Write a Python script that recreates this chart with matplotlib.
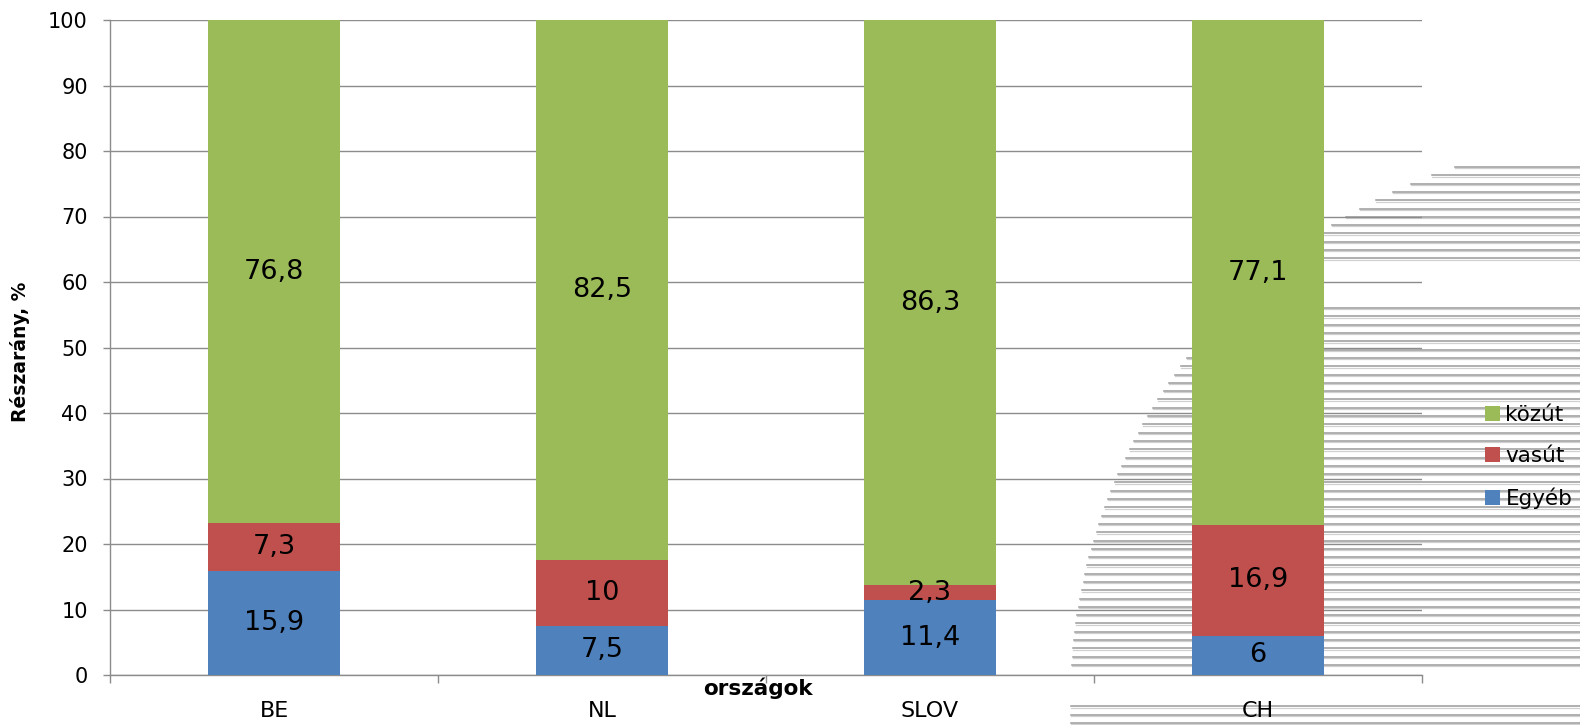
import numpy as np
import matplotlib
matplotlib.use("Agg")
import matplotlib.pyplot as plt
from matplotlib.lines import Line2D

categories = ["BE", "NL", "SLOV", "CH"]
egyeb = [15.9, 7.5, 11.4, 6]
vasut = [7.3, 10, 2.3, 16.9]
kozut = [76.8, 82.5, 86.3, 77.1]
series_names = ["Egyéb", "vasút", "közút"]
colors = ["#4F81BD", "#C0504D", "#9BBB59"]
yticks = list(range(0, 101, 10))

W, H = 1580, 725
plt.rcParams['font.family'] = ['DejaVu Sans']
fig = plt.figure(figsize=(W / 100, H / 100), dpi=100)
fig.patch.set_facecolor("white")

def fx(px):
    return px / W

def fy(py):
    return 1 - py / H

# decorative scan hatching in background (pixel geometry)
cx, cy, r = 1633, 700, 562
gaps = [(262, 300), (668, 703)]
yy = 167.0
while yy < H:
    if not any(a < yy < b for a, b in gaps):
        d = r ** 2 - (yy - cy) ** 2
        if d > 0:
            xl = cx - np.sqrt(d)
            fig.add_artist(Line2D([fx(xl), 1.0], [fy(yy), fy(yy)], transform=fig.transFigure,
                                  color="#9a9a9a", lw=1.1, zorder=-5))
            fig.add_artist(Line2D([fx(xl), 1.0], [fy(yy + 1.3), fy(yy + 1.3)], transform=fig.transFigure,
                                  color="#d0d0d0", lw=0.9, zorder=-6))
    yy += 8.3

ax = fig.add_axes([fx(110), fy(675), fx(1422) - fx(110), fy(20) - fy(675)])
ax.patch.set_visible(False)

x = np.arange(len(categories))
bw = 0.40
bottom = np.zeros(len(categories))
handles = []
for vals, name, col in zip([egyeb, vasut, kozut], series_names, colors):
    vals = np.array(vals, dtype=float)
    b = ax.bar(x, vals, bw, bottom=bottom, color=col, label=name, zorder=3)
    handles.append(b)
    for xi, v, bt in zip(x, vals, bottom):
        lab = ("%g" % v).replace(".", ",")
        ax.text(xi, bt + v / 2, lab, ha="center", va="center", fontsize=19.5, color="black", zorder=4)
    bottom += vals

ax.set_xlim(-0.5, len(categories) - 0.5)
ax.set_ylim(0, 100)
ax.set_yticks(yticks)
ax.set_yticklabels([str(t) for t in yticks], fontsize=15)
ax.yaxis.grid(True, color="#8c8c8c", lw=1.0, zorder=1)
ax.set_axisbelow(True)

ax.set_xticks(x)
ax.set_xticklabels(categories, fontsize=16)
ax.set_xticks(np.arange(-0.5, len(categories)), minor=True)
ax.tick_params(axis="x", which="major", length=0, pad=19)
ax.tick_params(axis="x", which="minor", length=6, color="#8c8c8c", width=1)
ax.tick_params(axis="y", length=5, color="#8c8c8c", width=1, pad=11)

for s in ["top", "right"]:
    ax.spines[s].set_visible(False)
for s in ["left", "bottom"]:
    ax.spines[s].set_color("#8c8c8c")
    ax.spines[s].set_linewidth(1.0)

fig.text(fx(20), fy(352), "Részarány, %", rotation=90, ha="center", va="center",
         fontsize=13.5, fontweight="bold")
fig.text(fx(758), fy(688), "országok", ha="center", va="center", fontsize=15.5, fontweight="bold")

leg = fig.legend(handles[::-1], series_names[::-1], loc="center left",
                 bbox_to_anchor=(fx(1485), fy(457)), frameon=False, fontsize=15.5,
                 handlelength=0.7, handleheight=0.7, handletextpad=0.25, labelspacing=1.0,
                 borderpad=0, borderaxespad=0)

fig.savefig("out.png", dpi=100, facecolor="white")
